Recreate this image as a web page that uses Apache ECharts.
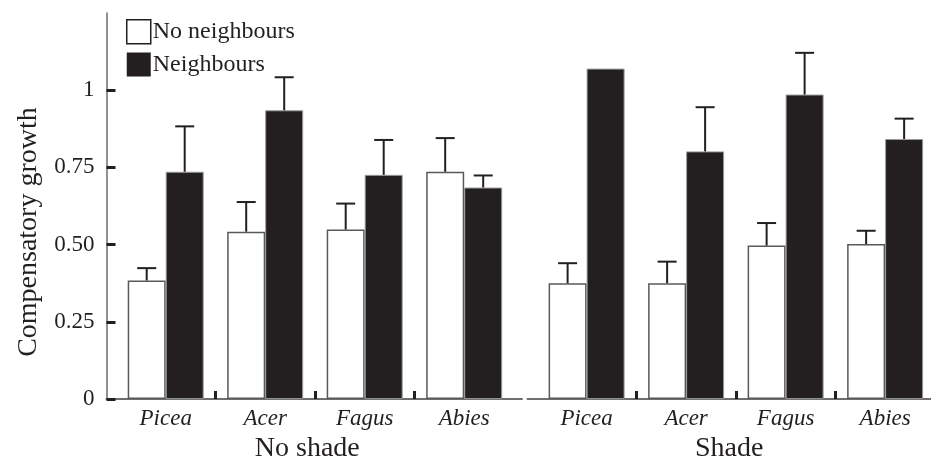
<!DOCTYPE html>
<html>
<head>
<meta charset="utf-8">
<script src="https://cdn.jsdelivr.net/npm/echarts@6/dist/echarts.min.js"></script>
<style>
html,body{margin:0;padding:0;background:#fff;}
#chart{width:931px;height:468px;}
</style>
</head>
<body>
<div id="chart"></div>
<script>
// ---- data ----
const categories = ['Picea', 'Acer', 'Fagus', 'Abies'];
const categoryIndex = [0, 1, 2, 3];
const groupBoundaries = [0.5, 1.5, 2.5];
const panelNames = ['No shade', 'Shade'];
const seriesNames = ['No neighbours', 'Neighbours'];

const noShadeNoNeighbours    = [0.384, 0.542, 0.549, 0.736];
const noShadeNoNeighboursErr = [0.424, 0.638, 0.633, 0.845];
const noShadeNeighbours      = [0.736, 0.935, 0.726, 0.685];
const noShadeNeighboursErr   = [0.883, 1.042, 0.839, 0.724];

const shadeNoNeighbours      = [0.375, 0.375, 0.497, 0.502];
const shadeNoNeighboursErr   = [0.440, 0.445, 0.570, 0.545];
const shadeNeighbours        = [1.070, 0.802, 0.986, 0.842];
const shadeNeighboursErr     = [null, 0.945, 1.121, 0.908];

const yTickValues = [0, 0.25, 0.5, 0.75, 1];
const yTickLabels = ['0', '0.25', '0.50', '0.75', '1'];

// ---- styles ----
const INK = '#231f20';
const AXIS = '#6d6e71';
const FONT = 'Liberation Serif';
const BAR_W = 38;

function barData(vals) { return vals.map((v, i) => [categoryIndex[i], v]); }
function errData(vals, errs, side) {
  const out = [];
  vals.forEach((v, i) => { if (errs[i] != null) out.push([categoryIndex[i], v, errs[i], side]); });
  return out;
}
function renderErr(params, api) {
  const x = api.value(0), lo = api.value(1), hi = api.value(2), side = api.value(3);
  const pLo = api.coord([x, lo]);
  const pHi = api.coord([x, hi]);
  const cx = pLo[0] + side * BAR_W / 2;
  return {
    type: 'group',
    children: [
      { type: 'line', shape: { x1: cx, y1: pLo[1], x2: cx, y2: pHi[1] }, style: { stroke: INK, lineWidth: 2 } },
      { type: 'line', shape: { x1: cx - 9.5, y1: pHi[1], x2: cx + 9.5, y2: pHi[1] }, style: { stroke: INK, lineWidth: 2 } }
    ]
  };
}

function xAxisFor(idx, min, max) {
  return {
    type: 'value', gridIndex: idx, min: min, max: max,
    name: panelNames[idx], nameLocation: 'middle', nameGap: 31,
    nameTextStyle: { fontFamily: FONT, fontSize: 28, color: INK, padding: idx === 0 ? [0, 14, 0, 0] : [0, 0, 0, 0] },
    axisLine: { show: true, onZero: false, lineStyle: { color: AXIS, width: 2 } },
    axisTick: { show: true, inside: true, length: 8, customValues: groupBoundaries, lineStyle: { color: INK, width: 3 } },
    axisLabel: {
      customValues: categoryIndex, margin: 8,
      formatter: v => categories[Math.round(v)],
      fontFamily: FONT, fontStyle: 'italic', fontSize: 23, color: INK
    },
    splitLine: { show: false }
  };
}

const whiteStyle = { color: '#ffffff', borderColor: '#58595b', borderWidth: 1.5 };
const blackStyle = { color: INK, borderColor: '#9a9a9a', borderWidth: 1 };

const option = {
  animation: false,
  backgroundColor: '#ffffff',
  legend: {
    orient: 'vertical', left: 121, top: 14,
    itemWidth: 24, itemHeight: 24, itemGap: 8, icon: 'rect',
    selectedMode: false,
    textStyle: { fontFamily: FONT, fontSize: 24, color: INK, padding: [0, 0, 0, -3] },
    data: [
      { name: seriesNames[0], itemStyle: { color: '#fff', borderColor: INK, borderWidth: 1.5 } },
      { name: seriesNames[1], itemStyle: { color: INK, borderWidth: 0 } }
    ]
  },
  grid: [
    { left: 106.5, width: 415.5, top: 13, bottom: 66.3, containLabel: false },
    { left: 527.5, width: 403.5, top: 13, bottom: 66.3, containLabel: false }
  ],
  xAxis: [
    xAxisFor(0, -0.595, 3.581),
    xAxisFor(1, -0.594, 3.461)
  ],
  yAxis: [
    {
      type: 'value', gridIndex: 0, min: 0, max: 1.25,
      name: 'Compensatory growth', nameLocation: 'middle', nameGap: 64, nameRotate: 90,
      nameTextStyle: { fontFamily: FONT, fontSize: 28, color: INK, padding: [0, 52, 0, 0] },
      axisLine: { show: true, onZero: false, lineStyle: { color: AXIS, width: 1.5 } },
      axisTick: { show: true, inside: true, length: 9, customValues: yTickValues, lineStyle: { color: INK, width: 3 } },
      axisLabel: {
        customValues: yTickValues, margin: 12,
        formatter: v => yTickLabels[yTickValues.indexOf(v)],
        fontFamily: FONT, fontSize: 23, color: INK
      },
      splitLine: { show: false }
    },
    { type: 'value', gridIndex: 1, min: 0, max: 1.25, show: false, axisLine: { onZero: false }, splitLine: { show: false } }
  ],
  series: [
    { name: seriesNames[0], type: 'bar', xAxisIndex: 0, yAxisIndex: 0, barWidth: BAR_W, barGap: '0%', itemStyle: whiteStyle, data: barData(noShadeNoNeighbours) },
    { name: seriesNames[1], type: 'bar', xAxisIndex: 0, yAxisIndex: 0, barWidth: BAR_W, barGap: '0%', itemStyle: blackStyle, data: barData(noShadeNeighbours) },
    { name: seriesNames[0], type: 'bar', xAxisIndex: 1, yAxisIndex: 1, barWidth: BAR_W, barGap: '0%', itemStyle: whiteStyle, data: barData(shadeNoNeighbours) },
    { name: seriesNames[1], type: 'bar', xAxisIndex: 1, yAxisIndex: 1, barWidth: BAR_W, barGap: '0%', itemStyle: blackStyle, data: barData(shadeNeighbours) },
    { type: 'custom', xAxisIndex: 0, yAxisIndex: 0, z: 5, renderItem: renderErr, encode: { x: 0, y: [1, 2] },
      data: errData(noShadeNoNeighbours, noShadeNoNeighboursErr, -1).concat(errData(noShadeNeighbours, noShadeNeighboursErr, 1)) },
    { type: 'custom', xAxisIndex: 1, yAxisIndex: 1, z: 5, renderItem: renderErr, encode: { x: 0, y: [1, 2] },
      data: errData(shadeNoNeighbours, shadeNoNeighboursErr, -1).concat(errData(shadeNeighbours, shadeNeighboursErr, 1)) }
  ]
};

const chart = echarts.init(document.getElementById('chart'), null, { renderer: 'canvas' });
chart.setOption(option);
</script>
</body>
</html>
